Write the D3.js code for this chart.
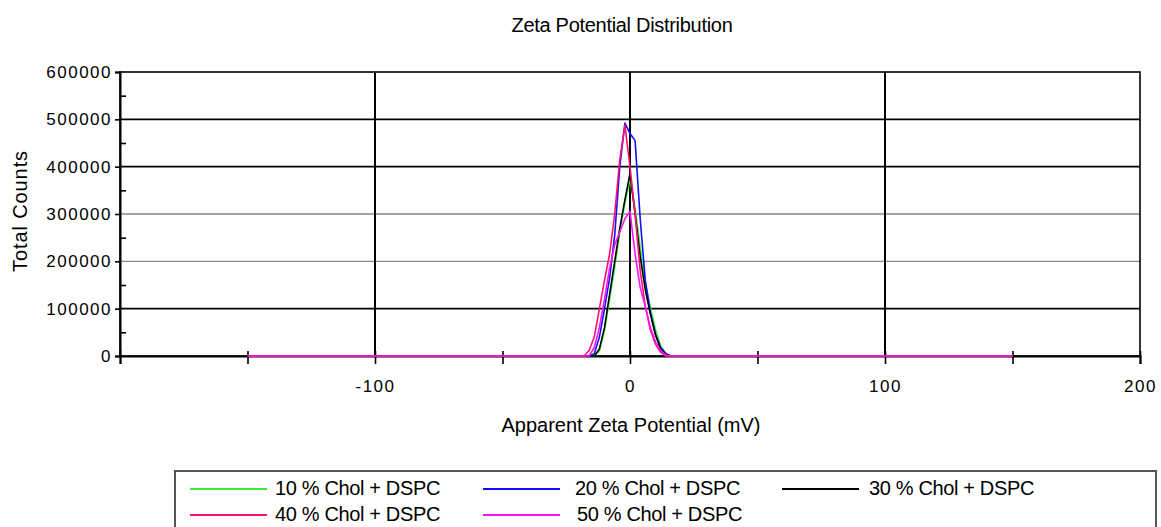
<!DOCTYPE html>
<html>
<head>
<meta charset="utf-8">
<script src="https://cdn.jsdelivr.net/npm/d3@7"></script>
<style>
  html, body { margin: 0; padding: 0; background: #fff; }
  svg { display: block; font-family: "Liberation Sans", Arial, sans-serif; }
</style>
</head>
<body>
<svg id="chart" width="1161" height="527"></svg>
<script>
// Apparent zeta potential (mV) sample positions shared by every run
const zetaMv = [-150, -18, -16, -14, -12, -10, -8, -6, -4, -2, 0, 2, 4, 6, 8, 10, 12, 14, 16, 18, 150];

// Total counts (thousands) for each formulation
const chol10 = [0, 0, 0, 0, 11, 54, 120, 188, 262, 324, 372, 312, 230, 154, 102, 56, 22, 6, 0, 0, 0];
const chol20 = [0, 0, 0, 5, 40, 100, 165, 255, 400, 492, 470, 455, 290, 160, 92, 45, 18, 5, 0, 0, 0];
const chol30 = [0, 0, 0, 0, 15, 60, 130, 200, 270, 330, 386, 300, 210, 140, 88, 45, 15, 3, 0, 0, 0];
const chol40 = [0, 0, 12, 40, 100, 160, 215, 300, 415, 488, 400, 300, 180, 105, 55, 25, 8, 0, 0, 0, 0];
const chol50 = [0, 0, 0, 18, 60, 120, 185, 235, 262, 290, 306, 215, 145, 105, 60, 30, 12, 2, 0, 0, 0];

const seriesNames = ["10 % Chol + DSPC", "20 % Chol + DSPC", "30 % Chol + DSPC", "40 % Chol + DSPC", "50 % Chol + DSPC"];
const seriesColors = ["#33ee33", "#1010ff", "#000000", "#ff1070", "#ff10ff"];
const seriesValues = [chol10, chol20, chol30, chol40, chol50];

const yTickValues = [0, 100000, 200000, 300000, 400000, 500000, 600000];
const xTickLabels = [-100, 0, 100, 200];

const svg = d3.select("#chart");
const W = 1161, H = 527;
const plot = { left: 120, right: 1140, top: 72, bottom: 356 };
const FONT = "\"Liberation Sans\", Arial, sans-serif";

svg.append("rect").attr("width", W).attr("height", H).attr("fill", "#fff");

const x = d3.scaleLinear().domain([-200, 200]).range([plot.left, plot.right]);
const y = d3.scaleLinear().domain([0, 600000]).range([plot.bottom, plot.top]);

// Horizontal grid
const gridColor = { 100000: "#000", 200000: "#888", 300000: "#888", 400000: "#000", 500000: "#000" };
svg.append("g").selectAll("line")
  .data(yTickValues.filter(v => v > 0 && v < 600000))
  .join("line")
  .attr("x1", plot.left).attr("x2", plot.right)
  .attr("y1", d => y(d)).attr("y2", d => y(d))
  .attr("stroke", d => gridColor[d])
  .attr("stroke-width", d => gridColor[d] === "#000" ? 1.8 : 1.4);

// Vertical grid
svg.append("g").selectAll("line")
  .data([-100, 0, 100])
  .join("line")
  .attr("x1", d => x(d)).attr("x2", d => x(d))
  .attr("y1", plot.top).attr("y2", plot.bottom)
  .attr("stroke", "#000").attr("stroke-width", 2);

// Frame
svg.append("rect")
  .attr("x", plot.left).attr("y", plot.top)
  .attr("width", plot.right - plot.left).attr("height", plot.bottom - plot.top)
  .attr("fill", "none").attr("stroke", "#000").attr("stroke-width", 1.6);

// Y axis: major ticks outward with labels, minor ticks inward
const yAxis = d3.axisLeft(y).tickValues(yTickValues).tickSize(5).tickPadding(3).tickFormat(d3.format("d"));
const yg = svg.append("g").attr("transform", `translate(${plot.left},0)`).call(yAxis);
yg.select(".domain").attr("stroke", "#000").attr("stroke-width", 2);
yg.selectAll(".tick line").attr("stroke", "#000").attr("stroke-width", 1.6);
yg.selectAll(".tick text").attr("font-size", 17).attr("letter-spacing", "1.5px")
  .attr("fill", "#000").attr("font-family", FONT);

const yMinor = d3.axisRight(y).tickValues(d3.range(50000, 600000, 100000)).tickSize(6).tickFormat("");
const ymg = svg.append("g").attr("transform", `translate(${plot.left},0)`).call(yMinor);
ymg.select(".domain").remove();
ymg.selectAll(".tick line").attr("stroke", "#000").attr("stroke-width", 1.6);

// X axis ticks every 50 mV, labels at the hundreds
const xAxis = d3.axisBottom(x).tickValues(d3.range(-200, 201, 50)).tickSize(8).tickPadding(16)
  .tickFormat(d => xTickLabels.includes(d) ? d : "");
const xg = svg.append("g").attr("transform", `translate(0,${plot.bottom})`).call(xAxis);
xg.select(".domain").attr("stroke", "#000").attr("stroke-width", 2);
xg.selectAll(".tick line").attr("y1", -5).attr("stroke", "#000").attr("stroke-width", 1.6);
xg.selectAll(".tick text").attr("font-size", 17).attr("letter-spacing", "1.5px")
  .attr("fill", "#000").attr("font-family", FONT);

// Distribution curves
const line = d3.line().x(d => x(d[0])).y(d => y(d[1] * 1000));
seriesValues.forEach((vals, i) => {
  svg.append("path")
    .datum(zetaMv.map((mv, j) => [mv, vals[j]]))
    .attr("fill", "none")
    .attr("stroke", seriesColors[i])
    .attr("stroke-width", 1.6)
    .attr("stroke-linejoin", "round")
    .attr("d", line);
});

// Titles
svg.append("text").attr("x", 622).attr("y", 32).attr("text-anchor", "middle")
  .attr("font-size", 20).attr("letter-spacing", "-0.3px").attr("fill", "#000").text("Zeta Potential Distribution");
svg.append("text").attr("x", 631).attr("y", 432).attr("text-anchor", "middle")
  .attr("font-size", 20).attr("fill", "#000").text("Apparent Zeta Potential (mV)");
svg.append("text").attr("transform", "translate(27,211) rotate(-90)").attr("text-anchor", "middle")
  .attr("font-size", 20).attr("letter-spacing", "0.9px").attr("fill", "#000").text("Total Counts");

// Legend
svg.append("rect").attr("x", 175).attr("y", 471).attr("width", 981).attr("height", 80)
  .attr("fill", "#fff").attr("stroke", "#555").attr("stroke-width", 2);
const legendPos = [
  { lx: 190, tx: 275, y: 489 },
  { lx: 483, tx: 575, y: 489 },
  { lx: 782, tx: 869, y: 489 },
  { lx: 190, tx: 275, y: 515 },
  { lx: 483, tx: 577, y: 515 }
];
const leg = svg.append("g").selectAll("g").data(seriesNames).join("g");
leg.append("line")
  .attr("x1", (d, i) => legendPos[i].lx).attr("x2", (d, i) => legendPos[i].lx + 77)
  .attr("y1", (d, i) => legendPos[i].y).attr("y2", (d, i) => legendPos[i].y)
  .attr("stroke", (d, i) => seriesColors[i]).attr("stroke-width", 2);
leg.append("text")
  .attr("x", (d, i) => legendPos[i].tx).attr("y", (d, i) => legendPos[i].y + 6)
  .attr("font-size", 20).attr("fill", "#000").attr("letter-spacing", "-0.35px")
  .text(d => d);
</script>
</body>
</html>
